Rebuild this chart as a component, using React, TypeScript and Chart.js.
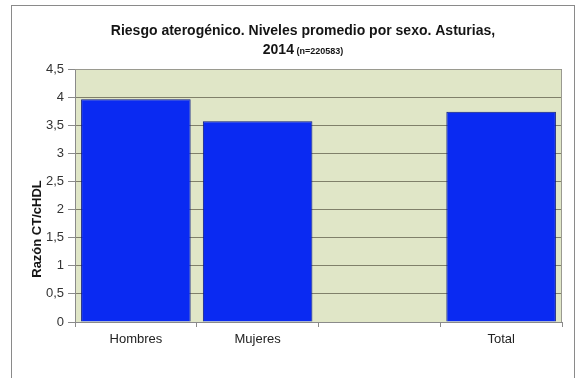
import React, { useEffect, useRef } from 'react';
import { Chart, registerables } from 'chart.js';

Chart.register(...registerables);

const categories = ['Hombres', 'Mujeres', '', 'Total'];
const values: (number | null)[] = [3.96, 3.57, null, 3.74];
const yMin = 0;
const yMax = 4.5;
const yStep = 0.5;
const titleLine1 = 'Riesgo aterogénico. Niveles promedio por sexo. Asturias,';
const titleLine2Main = '2014';
const titleLine2Small = ' (n=220583)';
const yAxisTitle = 'Razón CT/cHDL';

const FONT = 'Arial, "Liberation Sans", sans-serif';

const decorPlugin = {
  id: 'decor',
  beforeDraw(chart: any) {
    const { ctx, chartArea } = chart;
    ctx.save();
    ctx.fillStyle = '#ffffff';
    ctx.fillRect(0, 0, chart.width, chart.height);
    ctx.strokeStyle = '#8a8a8a';
    ctx.lineWidth = 1;
    ctx.strokeRect(11.5, 5.5, 563, 400);
    ctx.fillStyle = '#e0e6c7';
    ctx.fillRect(chartArea.left, chartArea.top, chartArea.right - chartArea.left, chartArea.bottom - chartArea.top);
    ctx.restore();
  },
  afterDraw(chart: any) {
    const { ctx, chartArea } = chart;
    ctx.save();
    ctx.strokeStyle = '#9a9a90';
    ctx.lineWidth = 1;
    ctx.beginPath();
    ctx.moveTo(chartArea.left, chartArea.top + 0.5);
    ctx.lineTo(chartArea.right - 0.5, chartArea.top + 0.5);
    ctx.lineTo(chartArea.right - 0.5, chartArea.bottom);
    ctx.stroke();

    const cx = 303;
    ctx.fillStyle = '#151515';
    ctx.textBaseline = 'alphabetic';
    ctx.textAlign = 'center';
    ctx.font = `bold 14px ${FONT}`;
    ctx.fillText(titleLine1, cx, 35);
    const big = `bold 14px ${FONT}`;
    const small = `bold 9px ${FONT}`;
    ctx.font = big;
    const w1 = ctx.measureText(titleLine2Main).width;
    ctx.font = small;
    const w2 = ctx.measureText(titleLine2Small).width;
    const start = cx - (w1 + w2) / 2;
    ctx.textAlign = 'left';
    ctx.font = big;
    ctx.fillText(titleLine2Main, start, 54);
    ctx.font = small;
    ctx.fillText(titleLine2Small, start + w1, 54);

    ctx.translate(37, 229);
    ctx.rotate(-Math.PI / 2);
    ctx.textAlign = 'center';
    ctx.textBaseline = 'middle';
    ctx.font = `bold 13px ${FONT}`;
    ctx.fillStyle = '#151515';
    ctx.fillText(yAxisTitle, 0, 0);
    ctx.restore();
  },
};

export default function App() {
  const ref = useRef<HTMLCanvasElement | null>(null);
  useEffect(() => {
    if (!ref.current) return;
    const chart = new Chart(ref.current, {
      type: 'bar',
      data: {
        labels: categories,
        datasets: [
          {
            data: values as any,
            backgroundColor: '#0a2af2',
            borderColor: '#0a1a80',
            borderWidth: 1,
            barPercentage: 0.9,
            categoryPercentage: 1,
          },
        ],
      },
      options: {
        responsive: false,
        animation: false,
        layout: { padding: { top: 69, right: 16, bottom: 16, left: 0 } },
        plugins: {
          legend: { display: false },
          title: { display: false },
          tooltip: { enabled: false },
        },
        scales: {
          x: {
            offset: true,
            grid: {
              display: true,
              offset: true,
              drawOnChartArea: false,
              drawTicks: true,
              tickLength: 5,
              tickColor: '#8a8a8a',
            },
            border: { display: true, color: '#8a8a8a' },
            ticks: { font: { family: FONT, size: 13 }, color: '#222222', padding: 5 },
            afterFit: (s: any) => {
              s.height = 40;
            },
          },
          y: {
            min: yMin,
            max: yMax,
            ticks: {
              stepSize: yStep,
              font: { family: FONT, size: 13 },
              color: '#333333',
              padding: 4,
              callback: (v: any) => String(v).replace('.', ','),
            },
            grid: {
              color: '#80806a',
              tickColor: '#8a8a8a',
              tickLength: 7,
              drawTicks: true,
            },
            border: { display: true, color: '#8a8a8a' },
            afterFit: (s: any) => {
              s.width = 75;
            },
          },
        },
      },
      plugins: [decorPlugin],
    });
    return () => chart.destroy();
  }, []);
  return (
    <div style={{ position: 'fixed', left: 0, top: 0, width: 578, height: 378 }}>
      <canvas ref={ref} width={578} height={378} style={{ display: 'block' }} />
    </div>
  );
}
